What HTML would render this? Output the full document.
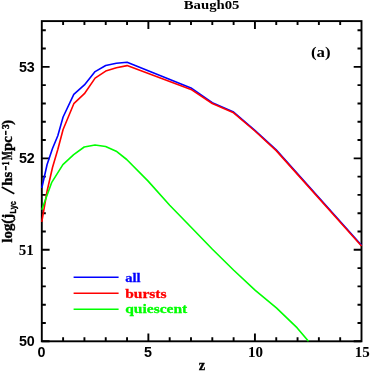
<!DOCTYPE html>
<html><head><meta charset="utf-8"><style>
html,body{margin:0;padding:0;background:#fff;}
body{width:382px;height:382px;overflow:hidden;position:relative;}
svg{position:absolute;left:0;top:0;will-change:transform;}
.sans{font-family:"Liberation Sans",sans-serif;font-weight:bold;font-size:14.3px;fill:#000;}
.serif{font-family:"Liberation Serif",serif;font-weight:bold;font-size:13.5px;}
.lg text{stroke-width:0.3px;}
</style></head><body>
<svg width="382" height="382" viewBox="0 0 382 382">
<rect x="0" y="0" width="382" height="382" fill="#fff"/>
<g fill="none" stroke="#000" stroke-width="1.9">
<rect x="41.8" y="21.1" width="319.7" height="320.2"/>
<path d="M63.11 341.3 v-4.0 M63.11 21.1 v4.0 M84.43 341.3 v-4.0 M84.43 21.1 v4.0 M105.74 341.3 v-4.0 M105.74 21.1 v4.0 M127.05 341.3 v-4.0 M127.05 21.1 v4.0 M148.37 341.3 v-7.8 M148.37 21.1 v7.8 M169.68 341.3 v-4.0 M169.68 21.1 v4.0 M190.99 341.3 v-4.0 M190.99 21.1 v4.0 M212.31 341.3 v-4.0 M212.31 21.1 v4.0 M233.62 341.3 v-4.0 M233.62 21.1 v4.0 M254.93 341.3 v-7.8 M254.93 21.1 v7.8 M276.25 341.3 v-4.0 M276.25 21.1 v4.0 M297.56 341.3 v-4.0 M297.56 21.1 v4.0 M318.87 341.3 v-4.0 M318.87 21.1 v4.0 M340.19 341.3 v-4.0 M340.19 21.1 v4.0 M41.8 341.30 h7.8 M361.5 341.30 h-7.8 M41.8 323.00 h4.0 M361.5 323.00 h-4.0 M41.8 304.71 h4.0 M361.5 304.71 h-4.0 M41.8 286.41 h4.0 M361.5 286.41 h-4.0 M41.8 268.11 h4.0 M361.5 268.11 h-4.0 M41.8 249.81 h7.8 M361.5 249.81 h-7.8 M41.8 231.52 h4.0 M361.5 231.52 h-4.0 M41.8 213.22 h4.0 M361.5 213.22 h-4.0 M41.8 194.92 h4.0 M361.5 194.92 h-4.0 M41.8 176.63 h4.0 M361.5 176.63 h-4.0 M41.8 158.33 h7.8 M361.5 158.33 h-7.8 M41.8 140.03 h4.0 M361.5 140.03 h-4.0 M41.8 121.73 h4.0 M361.5 121.73 h-4.0 M41.8 103.44 h4.0 M361.5 103.44 h-4.0 M41.8 85.14 h4.0 M361.5 85.14 h-4.0 M41.8 66.84 h7.8 M361.5 66.84 h-7.8 M41.8 48.55 h4.0 M361.5 48.55 h-4.0 M41.8 30.25 h4.0 M361.5 30.25 h-4.0"/>
</g>
<g fill="none" stroke-width="1.6" stroke-linejoin="round" stroke-linecap="butt">
<polyline stroke="#0000ff" points="41.8,188.0 47.1,164.5 52.5,148.5 57.8,135.8 63.1,117.0 73.8,94.4 84.4,84.9 95.1,71.6 105.7,65.5 116.4,63.3 127.1,62.2 191.0,87.9 212.3,102.7 233.6,112.1 254.9,130.3 276.2,149.9 361.5,245.3"/>
<polyline stroke="#ff0000" points="41.8,221.8 47.1,191.0 52.5,167.5 57.8,149.5 63.1,129.5 73.8,103.7 84.4,93.7 95.1,78.1 105.7,71.1 116.4,67.8 127.1,65.6 191.0,89.4 212.3,103.5 233.6,112.8 254.9,131.0 276.2,150.6 361.5,246.0"/>
<polyline stroke="#00ff00" points="41.8,209.8 51.6,182.7 62.9,164.6 73.7,154.6 84.2,147.0 95.0,145.0 105.6,146.5 116.2,151.2 126.7,159.5 147.9,180.9 169.7,205.3 190.4,226.5 212.4,249.3 233.5,270.0 255.3,290.4 276.4,307.8 297.2,327.9 308.5,341.3"/>
<path stroke="#0000ff" d="M73.6 277.3 H118.6"/>
<path stroke="#ff0000" d="M73.6 293.2 H118.6"/>
<path stroke="#00ff00" d="M73.6 309.2 H118.6"/>
</g>
<g class="sans" text-anchor="end">
<text x="34.8" y="71.8">53</text>
<text x="34.8" y="163.3">52</text>
<text x="33.8" y="254.7" style="font-family:'Liberation Serif',serif;font-size:15px">51</text>
<text x="34.8" y="346.3">50</text>
</g>
<g class="sans" text-anchor="middle">
<text x="41.6" y="357.2">0</text>
<text x="148.1" y="357.1">5</text>
</g>
<g class="serif" text-anchor="middle" fill="#000">
<text x="255.5" y="356.9" style="font-size:15px">10</text>
<text x="362.2" y="356.9" style="font-size:15px">15</text>
<text transform="translate(202.0,369.5) scale(0.95,1)" style="font-size:15.3px" stroke="#000" stroke-width="0.3">z</text>
<text transform="translate(211.6,8.9) scale(1.19,1)" x="0" y="0" style="font-size:12.4px">Baugh05</text>
<text transform="translate(320.7,56.7) scale(1.1,1)" x="0" y="0" style="font-size:15.3px">(a)</text>
</g>
<g class="serif lg" text-anchor="start">
<text fill="#0000ff" stroke="#0000ff" transform="translate(125.2,281.9) scale(1.08,1)">all</text>
<text fill="#ff0000" stroke="#ff0000" transform="translate(125.2,298.0) scale(1.15,1)">bursts</text>
<text fill="#00ff00" stroke="#00ff00" transform="translate(125.2,312.8) scale(1.15,1)">quiescent</text>
</g>
<g class="serif" fill="#000" stroke="#000" stroke-width="0.4" style="font-size:14px">
<text transform="translate(12.3,242.5) rotate(-90)" textLength="28.6" lengthAdjust="spacingAndGlyphs">log(j</text>
<text transform="translate(15.8,213.4) rotate(-90)" textLength="12.3" lengthAdjust="spacingAndGlyphs" style="font-family:'Liberation Sans',sans-serif;font-size:9.2px">Lyc</text>
<path d="M14.3 193.8 L1.7 187.0" stroke-width="1.6" fill="none"/>
<text transform="translate(12.3,185.8) rotate(-90)" textLength="13.9" lengthAdjust="spacingAndGlyphs">hs</text>
<path d="M5.8 170.2 V165.9" stroke-width="1.5" fill="none"/>
<text transform="translate(8.6,165.5) rotate(-90)" style="font-size:9.5px" textLength="4.0" lengthAdjust="spacingAndGlyphs">1</text>
<text transform="translate(12.3,160.0) rotate(-90)" textLength="8.7" lengthAdjust="spacingAndGlyphs">M</text>
<text transform="translate(12.3,151.0) rotate(-90)" textLength="14.8" lengthAdjust="spacingAndGlyphs">pc</text>
<path d="M5.8 135.0 V130.7" stroke-width="1.5" fill="none"/>
<text transform="translate(8.6,129.0) rotate(-90)" style="font-size:9.5px">3</text>
<text transform="translate(12.3,124.7) rotate(-90)">)</text>
</g>
</svg>
</body></html>
